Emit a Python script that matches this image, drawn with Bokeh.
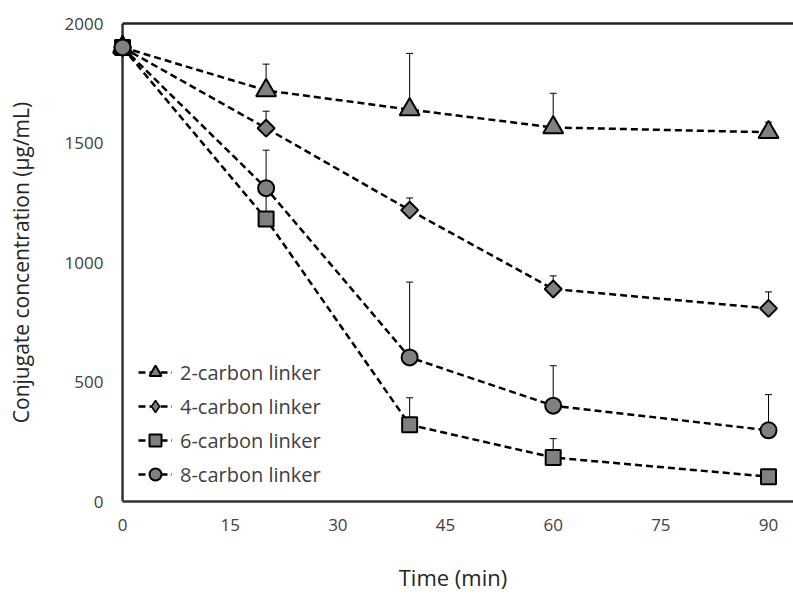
import math
from bokeh.plotting import figure
from bokeh.models import (ColumnDataSource, Whisker, TeeHead, Legend, LegendItem,
                          LinearAxis, FixedTicker, Range1d, Span, CDSView, IndexFilter)
from bokeh.embed import file_html
from bokeh.resources import INLINE

# ---- data ----
time_min = [0, 20, 40, 60, 90]
series_names = ["2-carbon linker", "4-carbon linker", "6-carbon linker", "8-carbon linker"]
c2_mean = [1900, 1720, 1640, 1565, 1545]
c2_upper = [1900, 1830, 1875, 1708, 1587]
c4_mean = [1900, 1562, 1219, 889, 808]
c4_upper = [1900, 1633, 1270, 944, 877]
c6_mean = [1900, 1182, 321, 184, 104]
c6_upper = [1900, 1300, 434, 263, 115]
c8_mean = [1900, 1311, 603, 401, 298]
c8_upper = [1900, 1470, 918, 568, 447]
x_ticks = [0, 15, 30, 45, 60, 75, 90]
y_ticks = [0, 500, 1000, 1500, 2000]

FONT = "Open Sans"
TXT = "#404040"
AXC = "#333333"

p = figure(width=793, height=594, output_backend="svg", toolbar_location=None,
           x_range=Range1d(-1.4, 93.48), y_range=Range1d(0, 2000),
           min_border_left=112, min_border_right=0, min_border_top=23, min_border_bottom=92)
p.outline_line_color = None
p.grid.visible = False
p.background_fill_color = "white"

# left axis line drawn at x = 0 so that markers at t = 0 are not clipped
p.add_layout(Span(location=0, dimension="height", line_color=AXC, line_width=2.5,
                  level="underlay"))

series = [
    (c2_mean, c2_upper, "triangle", 20, 0.0, "triangle"),
    (c4_mean, c4_upper, "square", 12, math.pi / 4, "diamond"),
    (c6_mean, c6_upper, "square", 15, 0.0, "square"),
    (c8_mean, c8_upper, "circle", 16, 0.0, "circle"),
]

line_rs = []
for mean, upper, mk, sz, ang, lmk in series:
    src = ColumnDataSource(dict(x=time_min, y=mean))
    lr = p.line("x", "y", source=src, line_color="black", line_width=2.5, line_dash="7 4")
    line_rs.append((src, lr))

for mean, upper, mk, sz, ang, lmk in series:
    esrc = ColumnDataSource(dict(x=time_min, lo=mean, hi=upper))
    w = Whisker(source=esrc, base="x", lower="lo", upper="hi", line_color="black", line_width=1,
                upper_head=TeeHead(size=7, line_color="black", line_width=1), lower_head=None)
    p.add_layout(w)

items = []
for (mean, upper, mk, sz, ang, lmk), name, (src, lr) in zip(series, series_names, line_rs):
    if lmk != mk:
        # legend swatch shape; its only drawn point (t = 0) is hidden under the later markers
        proxy = p.scatter("x", "y", source=src, view=CDSView(filter=IndexFilter(indices=[0])),
                          marker=lmk, size=sz, fill_color="#808080", line_color="black",
                          line_width=1.5)
    sr = p.scatter("x", "y", source=src, marker=mk, size=sz, angle=ang,
                   fill_color="#808080", line_color="black", line_width=2)
    if lmk != mk:
        items.append(LegendItem(label=name, renderers=[lr, proxy]))
    else:
        items.append(LegendItem(label=name, renderers=[lr, sr]))

# axes
xa = p.xaxis[0]
ya = p.yaxis[0]
xa.bounds = (0, 93.48)
for ax in (xa, ya):
    ax.axis_line_color = AXC
    ax.axis_line_width = 2.5
    ax.major_tick_line_color = None
    ax.minor_tick_line_color = None
    ax.major_tick_out = 0
    ax.major_tick_in = 0
    ax.minor_tick_out = 0
    ax.major_label_text_font = FONT
    ax.major_label_text_font_size = "17px"
    ax.major_label_text_color = TXT
    ax.axis_label_text_font = FONT
    ax.axis_label_text_font_size = "22px"
    ax.axis_label_text_font_style = "normal"
    ax.axis_label_text_color = "#262626"
ya.axis_label_text_font_size = "21px"
ya.axis_line_color = None
xa.ticker = FixedTicker(ticks=x_ticks)
ya.ticker = FixedTicker(ticks=y_ticks)
xa.axis_label = "Time (min)"
ya.axis_label = "Conjugate concentration (\u03bcg/mL)"
xa.major_label_standoff = 17
ya.major_label_standoff = 9
xa.axis_label_standoff = 28
ya.axis_label_standoff = 27

top = LinearAxis(ticker=FixedTicker(ticks=[]), bounds=(0, 93.48),
                 axis_line_color="#222222", axis_line_width=2.5,
                 major_tick_line_color=None, minor_tick_line_color=None,
                 major_tick_out=0, major_label_text_color=None)
p.add_layout(top, "above")

legend = Legend(items=items, location=(26, 12))
legend.border_line_color = None
legend.background_fill_alpha = 0
legend.label_text_font = FONT
legend.label_text_font_size = "20px"
legend.label_text_color = TXT
legend.glyph_width = 34
legend.glyph_height = 30
legend.label_height = 30
legend.spacing = 4
legend.padding = 0
legend.margin = 0
legend.label_standoff = 8
p.add_layout(legend, "center")

open("out.html", "w").write(file_html(p, INLINE))
